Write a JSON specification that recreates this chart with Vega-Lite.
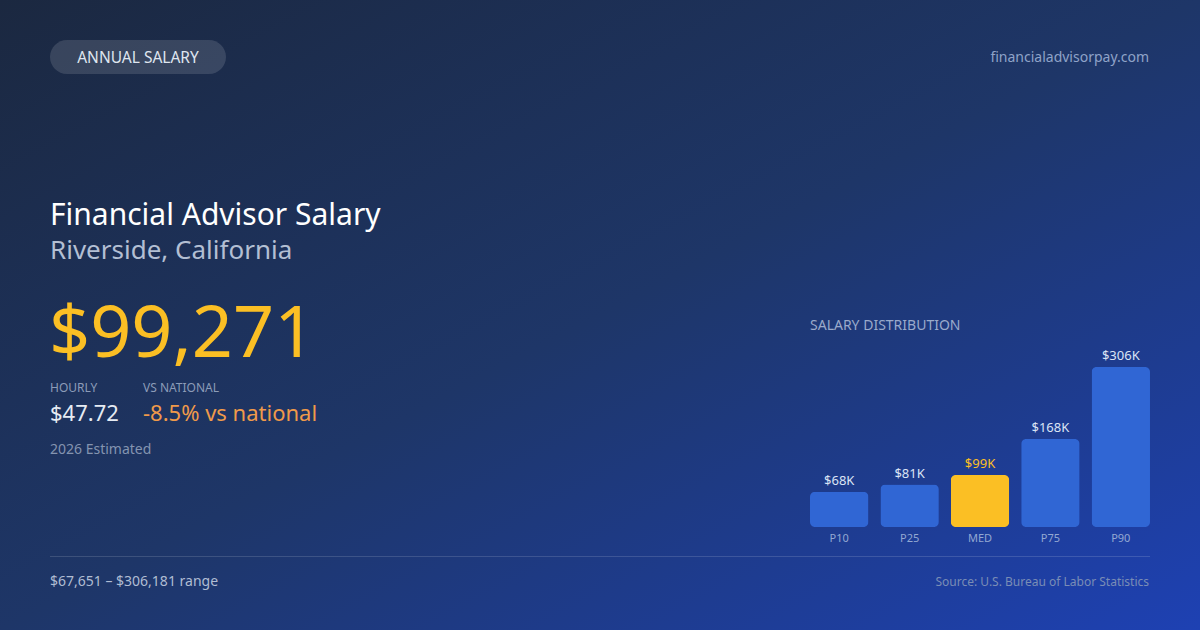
{
  "$schema": "https://vega.github.io/schema/vega-lite/v6.json",
  "width": 1200,
  "height": 630,
  "autosize": {"type": "fit", "contains": "padding"},
  "padding": 0,
  "background": "#1d3160",
  "config": {
    "view": {"stroke": null},
    "font": "Noto Sans",
    "text": {"font": "Noto Sans"}
  },
  "datasets": {
    "salary": [
      {"pct": "P10", "salary": 67651, "label": "$68K", "median": false},
      {"pct": "P25", "salary": 81200, "label": "$81K", "median": false},
      {"pct": "MED", "salary": 99271, "label": "$99K", "median": true},
      {"pct": "P75", "salary": 168300, "label": "$168K", "median": false},
      {"pct": "P90", "salary": 306181, "label": "$306K", "median": false}
    ]
  },
  "resolve": {"scale": {"x": "independent", "y": "independent"}},
  "layer": [
    {
      "data": {"values": [{"bg": 1}]},
      "mark": {
        "type": "rect",
        "color": {
          "gradient": "linear",
          "x1": 0, "y1": 0, "x2": 1, "y2": 1,
          "stops": [
            {"offset": 0, "color": "#1b2840"},
            {"offset": 0.5, "color": "#1e3668"},
            {"offset": 1, "color": "#1e41b3"}
          ]
        }
      },
      "encoding": {}
    },
    {
      "data": {"values": [{"text": "ANNUAL SALARY"}]},
      "layer": [
        {
          "mark": {"type": "rect", "color": "#ffffff", "opacity": 0.13, "cornerRadius": 17},
          "encoding": {
            "x": {"value": 50}, "x2": {"value": 226},
            "y": {"value": 40}, "y2": {"value": 74}
          }
        },
        {
          "mark": {"type": "text", "align": "center", "baseline": "middle", "fontSize": 15.5, "color": "#dfe5ef"},
          "encoding": {"text": {"field": "text"}, "x": {"value": 138}, "y": {"value": 58}}
        }
      ]
    },
    {
      "data": {"values": [{"text": "financialadvisorpay.com"}]},
      "mark": {"type": "text", "align": "right", "baseline": "middle", "fontSize": 14, "color": "#8fa3c8"},
      "encoding": {"text": {"field": "text"}, "x": {"value": 1149}, "y": {"value": 58}}
    },
    {
      "data": {"values": [{"text": "Financial Advisor Salary"}]},
      "mark": {"type": "text", "align": "left", "baseline": "alphabetic", "fontSize": 30, "color": "#ffffff"},
      "encoding": {"text": {"field": "text"}, "x": {"value": 50}, "y": {"value": 225}}
    },
    {
      "data": {"values": [{"text": "Riverside, California"}]},
      "mark": {"type": "text", "align": "left", "baseline": "alphabetic", "fontSize": 26, "color": "#b3bfd3"},
      "encoding": {"text": {"field": "text"}, "x": {"value": 50}, "y": {"value": 259}}
    },
    {
      "data": {"values": [{"text": "$99,271"}]},
      "mark": {"type": "text", "align": "left", "baseline": "alphabetic", "fontSize": 72, "color": "#fbbf24"},
      "encoding": {"text": {"field": "text"}, "x": {"value": 49}, "y": {"value": 357}}
    },
    {
      "data": {"values": [{"text": "HOURLY"}]},
      "mark": {"type": "text", "align": "left", "baseline": "alphabetic", "fontSize": 12, "color": "#8c9cb8"},
      "encoding": {"text": {"field": "text"}, "x": {"value": 50}, "y": {"value": 392}}
    },
    {
      "data": {"values": [{"text": "VS NATIONAL"}]},
      "mark": {"type": "text", "align": "left", "baseline": "alphabetic", "fontSize": 12, "color": "#8c9cb8"},
      "encoding": {"text": {"field": "text"}, "x": {"value": 143}, "y": {"value": 392}}
    },
    {
      "data": {"values": [{"text": "$47.72"}]},
      "mark": {"type": "text", "align": "left", "baseline": "alphabetic", "fontSize": 22, "color": "#e6ebf3"},
      "encoding": {"text": {"field": "text"}, "x": {"value": 50}, "y": {"value": 421}}
    },
    {
      "data": {"values": [{"text": "-8.5% vs national"}]},
      "mark": {"type": "text", "align": "left", "baseline": "alphabetic", "fontSize": 22, "color": "#f09a4a"},
      "encoding": {"text": {"field": "text"}, "x": {"value": 143}, "y": {"value": 421}}
    },
    {
      "data": {"values": [{"text": "2026 Estimated"}]},
      "mark": {"type": "text", "align": "left", "baseline": "alphabetic", "fontSize": 14, "color": "#8494b0"},
      "encoding": {"text": {"field": "text"}, "x": {"value": 50}, "y": {"value": 454}}
    },
    {
      "data": {"values": [{"text": "SALARY DISTRIBUTION"}]},
      "mark": {"type": "text", "align": "left", "baseline": "alphabetic", "fontSize": 14, "color": "#9aaacb"},
      "encoding": {"text": {"field": "text"}, "x": {"value": 810}, "y": {"value": 330}}
    },
    {
      "data": {"name": "salary"},
      "layer": [
        {
          "mark": {"type": "bar", "cornerRadius": 5},
          "encoding": {
            "x": {
              "field": "pct", "type": "nominal", "sort": null, "axis": null,
              "scale": {"range": [810, 1150], "paddingInner": 0.17, "paddingOuter": 0}
            },
            "y": {
              "field": "salary", "type": "quantitative", "axis": null,
              "scale": {"domain": [0, 306181], "range": [527, 367], "nice": false, "zero": true}
            },
            "color": {
              "field": "median", "type": "nominal", "legend": null,
              "scale": {"domain": [false, true], "range": ["#3066d4", "#fbbf24"]}
            }
          }
        },
        {
          "mark": {"type": "text", "baseline": "alphabetic", "dy": -7, "fontSize": 13},
          "encoding": {
            "x": {"field": "pct", "type": "nominal", "sort": null},
            "y": {"field": "salary", "type": "quantitative"},
            "text": {"field": "label"},
            "color": {
              "field": "median", "type": "nominal", "legend": null,
              "scale": {"domain": [false, true], "range": ["#dbe4f5", "#fbbf24"]}
            }
          }
        },
        {
          "mark": {"type": "text", "baseline": "middle", "dy": 12, "fontSize": 11, "color": "#93a8d2"},
          "encoding": {
            "x": {"field": "pct", "type": "nominal", "sort": null},
            "y": {"datum": 0, "type": "quantitative"},
            "text": {"field": "pct"}
          }
        }
      ],
      "resolve": {"scale": {"color": "independent"}}
    },
    {
      "data": {"values": [{"line": 1}]},
      "mark": {"type": "rule", "color": "#ffffff", "opacity": 0.14, "strokeWidth": 1},
      "encoding": {"x": {"value": 50}, "x2": {"value": 1150}, "y": {"value": 556.5}}
    },
    {
      "data": {"values": [{"text": "$67,651 – $306,181 range"}]},
      "mark": {"type": "text", "align": "left", "baseline": "alphabetic", "fontSize": 14, "color": "#b0bdd3"},
      "encoding": {"text": {"field": "text"}, "x": {"value": 50}, "y": {"value": 586}}
    },
    {
      "data": {"values": [{"text": "Source: U.S. Bureau of Labor Statistics"}]},
      "mark": {"type": "text", "align": "right", "baseline": "alphabetic", "fontSize": 12, "color": "#7a8db5"},
      "encoding": {"text": {"field": "text"}, "x": {"value": 1149}, "y": {"value": 586}}
    }
  ]
}
